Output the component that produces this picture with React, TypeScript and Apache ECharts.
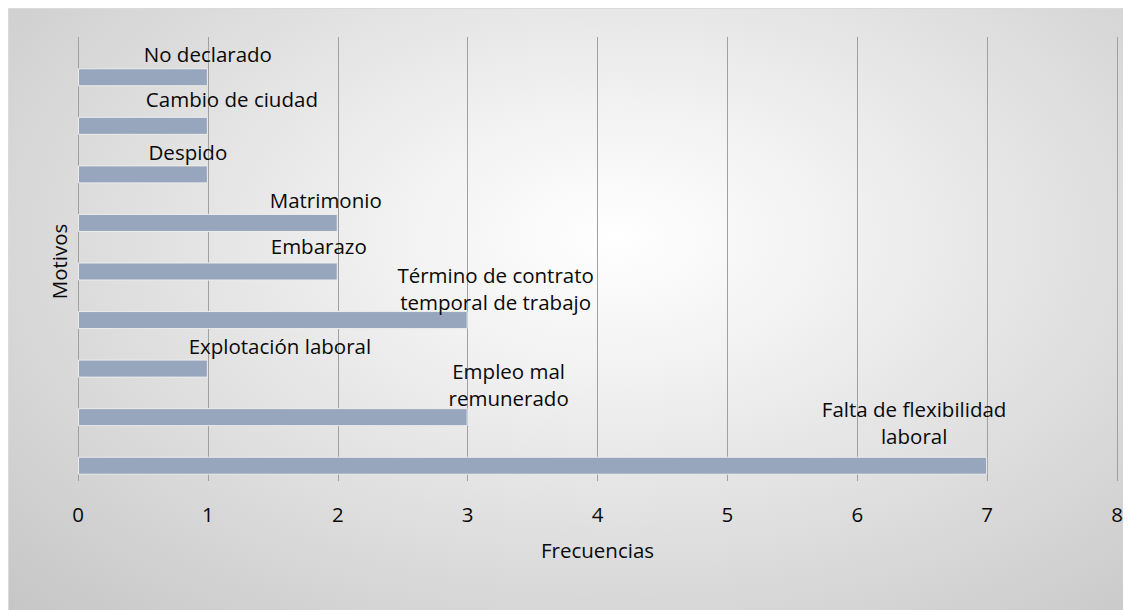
import React, { useEffect, useRef } from "react";
import * as echarts from "echarts";

// Categories from top to bottom
const categories: string[] = [
  "No declarado",
  "Cambio de ciudad",
  "Despido",
  "Matrimonio",
  "Embarazo",
  "Término de contrato\ntemporal de trabajo",
  "Explotación laboral",
  "Empleo mal\nremunerado",
  "Falta de flexibilidad\nlaboral",
];
const frecuencias: number[] = [1, 1, 1, 2, 2, 3, 1, 3, 7];
const xTicks = { min: 0, max: 8, interval: 1 };
const xAxisName = "Frecuencias";
const yAxisName = "Motivos";

// label placement (style), px offsets from the bar end
const labelOffsets: [number, number][] = [
  [0, -23],
  [24, -27],
  [-20, -22],
  [-12, -23],
  [-19, -26],
  [28, -32],
  [72, -23],
  [41, -33],
  [-73, -43],
];

const FONT = "'Open Sans', 'Noto Sans', sans-serif";
const FS = 20.5;
const TEXT = "#0a0a0a";
const GRID_COLOR = "#a0a0a0";

export default function App() {
  const ref = useRef<HTMLDivElement>(null);
  useEffect(() => {
    document.body.style.overflow = "hidden";
    if (!ref.current) return;
    const chart = echarts.init(ref.current, undefined, { renderer: "svg" });
    chart.setOption({
      animation: false,
      textStyle: { fontFamily: FONT },
      grid: [
        { left: 69, right: 14, top: 28, bottom: 132 },
        { left: 69, right: 14, top: 44, bottom: 120 },
      ],
      xAxis: [
        {
          gridIndex: 0,
          type: "value",
          min: xTicks.min,
          max: xTicks.max,
          interval: xTicks.interval,
          axisLine: { show: false },
          axisTick: { show: true, length: 3, lineStyle: { color: GRID_COLOR } },
          splitLine: { show: true, lineStyle: { color: GRID_COLOR, width: 1 } },
          axisLabel: { fontSize: FS, color: TEXT, margin: 25, fontFamily: FONT },
          name: xAxisName,
          nameLocation: "middle",
          nameGap: 61,
          nameTextStyle: { fontSize: FS, color: TEXT, fontFamily: FONT },
        },
        {
          gridIndex: 1,
          type: "value",
          min: xTicks.min,
          max: xTicks.max,
          interval: xTicks.interval,
          show: false,
          splitLine: { show: false },
        },
      ],
      yAxis: [
        {
          gridIndex: 0,
          type: "category",
          data: categories,
          inverse: true,
          axisLine: { show: false },
          axisTick: { show: false },
          axisLabel: { show: false },
          splitLine: { show: false },
          name: yAxisName,
          nameLocation: "middle",
          nameGap: 9,
          nameRotate: 90,
          nameTextStyle: { fontSize: FS, color: TEXT, fontFamily: FONT, padding: [0, 8, 0, 0] },
        },
        {
          gridIndex: 1,
          type: "category",
          data: categories,
          inverse: true,
          show: false,
        },
      ],
      series: [
        {
          type: "bar",
          xAxisIndex: 1,
          yAxisIndex: 1,
          barWidth: 18,
          silent: true,
          itemStyle: { color: "#97a6bd", borderColor: "#ececec", borderWidth: 1 },
          data: frecuencias.map((v, i) => ({
            value: v,
            label: {
              show: true,
              position: ["100%", "50%"],
              align: "center",
              verticalAlign: "middle",
              offset: labelOffsets[i],
              formatter: "{b}",
              fontSize: FS,
              lineHeight: 27,
              color: TEXT,
              fontFamily: FONT,
            },
          })),
        },
      ],
    });
    return () => chart.dispose();
  }, []);
  return (
    <div
      ref={ref}
      style={{
        width: 1123,
        height: 602,
        boxSizing: "border-box",
        borderTop: "1px solid #dadada",
        borderLeft: "1px solid #dadada",
        background:
          "radial-gradient(ellipse farthest-corner at 54% 38%, #ffffff 0%, #f2f2f2 25%, #c6c6c6 100%)",
      }}
    />
  );
}
